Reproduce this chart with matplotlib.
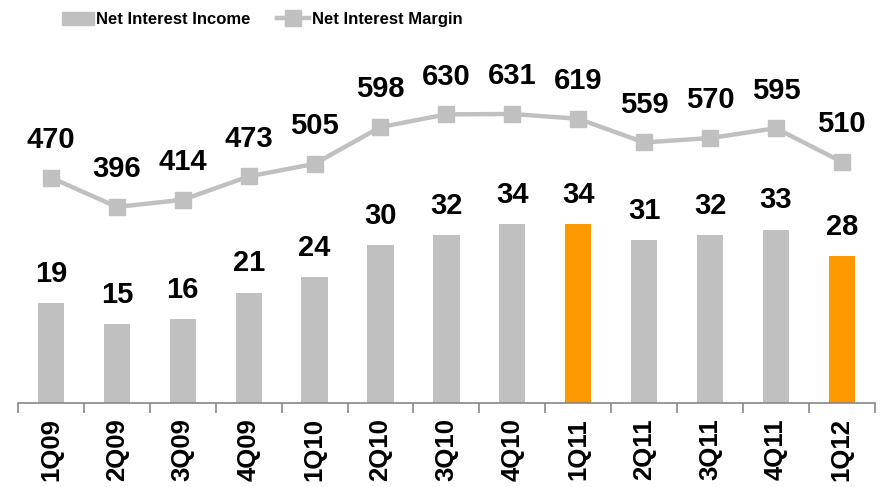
import matplotlib
matplotlib.use("Agg")
import matplotlib.pyplot as plt
import matplotlib.patches as mpatches
from matplotlib.lines import Line2D
import numpy as np

QUARTERS = ["1Q09", "2Q09", "3Q09", "4Q09", "1Q10", "2Q10", "3Q10",
            "4Q10", "1Q11", "2Q11", "3Q11", "4Q11", "1Q12"]
NET_INTEREST_INCOME = [19, 15, 16, 21, 24, 30, 32, 34, 34, 31, 32, 33, 28]
NET_INTEREST_MARGIN = [470, 396, 414, 473, 505, 598, 630, 631, 619, 559, 570, 595, 510]
HIGHLIGHT = ["1Q11", "1Q12"]

GREY = "#C0C0C0"
ORANGE = "#FF9900"

plt.rcParams["font.family"] = ["Liberation Sans", "DejaVu Sans"]
plt.rcParams["font.weight"] = "bold"

fig = plt.figure(figsize=(8.8, 4.87), dpi=100)
ax = fig.add_axes([0.0205, 0.1725, 0.9735, 0.7225])
ax2 = ax.twinx()

x = np.arange(len(QUARTERS))
colors = [ORANGE if q in HIGHLIGHT else GREY for q in QUARTERS]
ax.bar(x, NET_INTEREST_INCOME, width=0.4, color=colors, zorder=2)
for xi, v in zip(x, NET_INTEREST_INCOME):
    ax.annotate(str(v), (xi, v), xytext=(0, 11), textcoords="offset points",
                ha="center", va="bottom", fontsize=21, fontweight="bold")

ax2.plot(x, NET_INTEREST_MARGIN, color=GREY, lw=3.2, marker="s", markersize=11,
         zorder=3)
for xi, v in zip(x, NET_INTEREST_MARGIN):
    ax2.annotate(str(v), (xi, v), xytext=(0, 17), textcoords="offset points",
                 ha="center", va="bottom", fontsize=21, fontweight="bold")

ax.set_xlim(-0.5, len(QUARTERS) - 0.5)
ax.set_ylim(0, 67)
ax2.set_ylim(-100, 790)

for a in (ax, ax2):
    for side in ("left", "right", "top", "bottom"):
        a.spines[side].set_visible(False)
    a.set_yticks([])
ax.spines["bottom"].set_visible(True)
ax.spines["bottom"].set_color("#888888")
ax.spines["bottom"].set_linewidth(1.2)

ax.set_xticks(x)
ax.set_xticklabels(QUARTERS, rotation=90, fontsize=18.5, fontweight="bold")
ax.tick_params(axis="x", which="major", length=0, pad=11)
ax.set_xticks(np.arange(-0.5, len(QUARTERS)), minor=True)
ax.tick_params(axis="x", which="minor", length=7, width=1.2, color="#888888")

handles = [
    mpatches.Patch(color=GREY, label="Net Interest Income"),
    Line2D([], [], color=GREY, lw=3.2, marker="s", markersize=11,
           label="Net Interest Margin"),
]
fig.legend(handles=handles, loc="center", bbox_to_anchor=(0.298, 0.960),
           ncol=2, frameon=False, handlelength=1.9, handleheight=0.9,
           handletextpad=0.15, columnspacing=1.6,
           prop={"weight": "bold", "size": 12})

fig.savefig("out.png", dpi=100)
